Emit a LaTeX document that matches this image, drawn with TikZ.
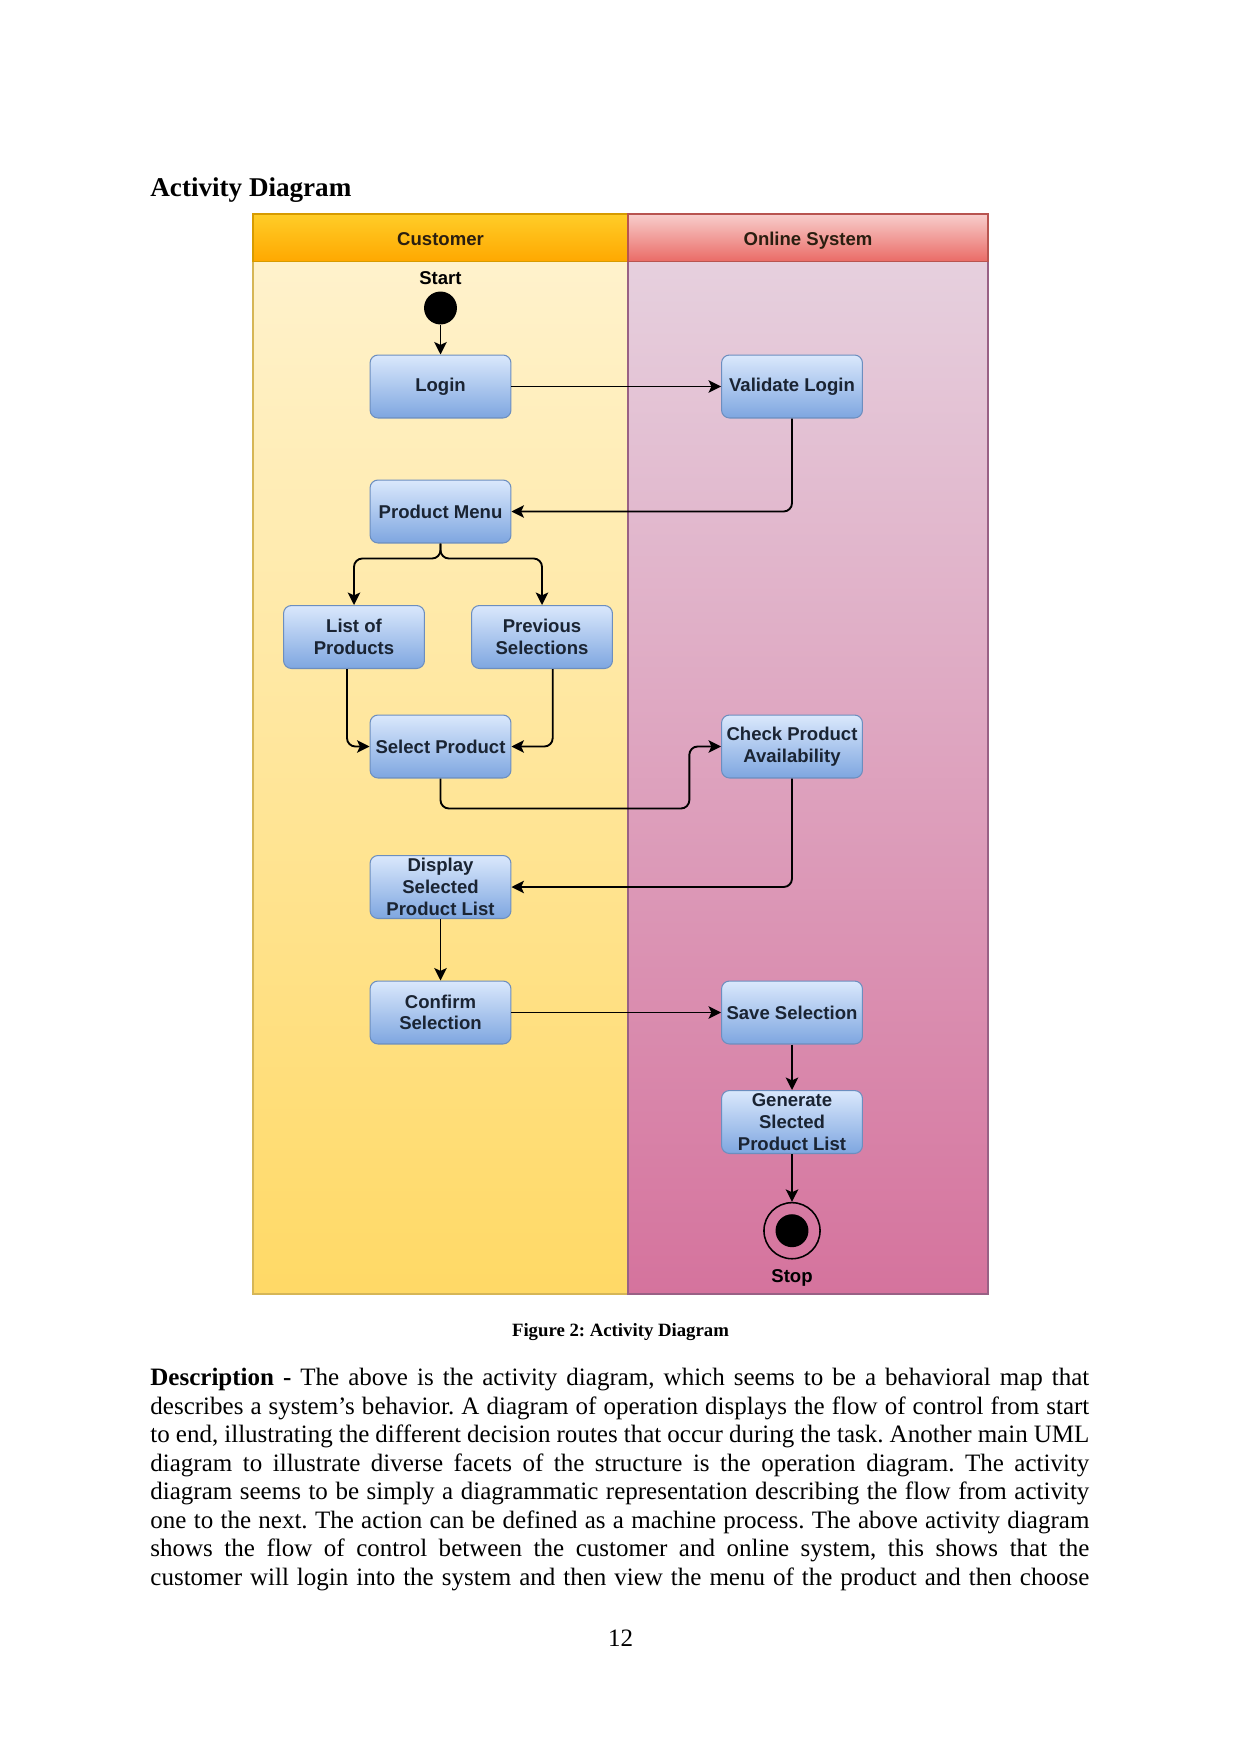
\documentclass[tikz,border=0pt]{standalone}
\usepackage{fontspec}
\setmainfont{Liberation Serif}
\newfontfamily\boxfont{Liberation Sans}
\usetikzlibrary{arrows.meta,calc}
\frenchspacing
\definecolor{hdrOtop}{HTML}{FFCD28}
\definecolor{hdrObot}{HTML}{FFA800}
\definecolor{hdrOline}{HTML}{D79B00}
\definecolor{laneYtop}{HTML}{FFF2CC}
\definecolor{laneYbot}{HTML}{FFD966}
\definecolor{laneYline}{HTML}{D6B656}
\definecolor{hdrRtop}{HTML}{F8CECC}
\definecolor{hdrRbot}{HTML}{EA6B66}
\definecolor{hdrRline}{HTML}{B85450}
\definecolor{lanePtop}{HTML}{E6D0DE}
\definecolor{lanePbot}{HTML}{D5739D}
\definecolor{lanePline}{HTML}{996185}
\definecolor{boxtop}{HTML}{DAE8FC}
\definecolor{boxbot}{HTML}{7EA6E0}
\definecolor{boxline}{HTML}{6C8EBF}
\definecolor{boxtext}{HTML}{1A2433}
\definecolor{hdrtext}{HTML}{2A1E10}
\begin{document}
\begin{tikzpicture}[x=0.4797pt,y=-0.4797pt,
  actbox/.style={rectangle, rounded corners=3.8pt, draw=boxline, line width=0.5pt,
    top color=boxtop, bottom color=boxbot, minimum width=67.6pt, minimum height=30.2pt,
    inner sep=0pt, align=center, text=boxtext,
    font=\boxfont\bfseries\fontsize{8.9}{10.4}\selectfont},
  lanelabel/.style={text=hdrtext, text height=6.6pt, text depth=1.9pt,
    font=\boxfont\bfseries\fontsize{8.9}{10.4}\selectfont},
  flowline/.style={draw=black, line width=0.9pt, rounded corners=4pt,
    -{Stealth[length=6pt,width=6pt,inset=1.4pt]}},
  bodyline/.style={anchor=base west, inner sep=0pt, font=\fontsize{12}{13.66}\selectfont}]
\useasboundingbox (0,0) rectangle (1241,1754);
\fill[white] (0,0) rectangle (1241,1754);

% heading
\node[anchor=base west, inner sep=0pt, font=\bfseries\fontsize{13}{15}\selectfont] (heading) at (150,196.7) {Activity Diagram};

% swimlanes
\shade[top color=laneYtop, bottom color=laneYbot] (253,261.5) rectangle (628,1294);
\shade[top color=lanePtop, bottom color=lanePbot] (628,261.5) rectangle (988,1294);
\shade[top color=hdrOtop, bottom color=hdrObot] (253,214) rectangle (628,261.5);
\shade[top color=hdrRtop, bottom color=hdrRbot] (628,214) rectangle (988,261.5);
\draw[laneYline, line width=0.5pt] (253,261.5) rectangle (628,1294);
\draw[lanePline, line width=0.5pt] (628,261.5) rectangle (988,1294);
\draw[hdrOline, line width=0.5pt] (253,214) rectangle (628,261.5);
\draw[hdrRline, line width=0.5pt] (628,214) rectangle (988,261.5);
\node[lanelabel] (customer) at (440.5,240.5) {Customer};
\node[lanelabel] (online) at (808,240.5) {Online System};

% start
\node[lanelabel, text=black] (startlabel) at (440.5,279.5) {Start};
\node[circle, fill=black, minimum size=15.8pt, inner sep=0pt] (start) at (440.5,308) {};

% activities
\node[actbox] (login) at (440.5,386.5) {Login};
\node[actbox] (validate) at (792,386.5) {Validate Login};
\node[actbox] (pmenu) at (440.5,511.5) {Product Menu};
\node[actbox] (list) at (354,637) {List of\\Products};
\node[actbox] (prev) at (542,637) {Previous\\Selections};
\node[actbox] (select) at (440.5,746.5) {Select Product};
\node[actbox] (check) at (792,746.5) {Check Product\\Availability};
\node[actbox] (display) at (440.5,887) {Display\\Selected\\Product List};
\node[actbox] (confirm) at (440.5,1012.5) {Confirm\\Selection};
\node[actbox] (save) at (792,1012.5) {Save Selection};
\node[actbox] (generate) at (792,1122) {Generate\\Slected\\Product List};

% stop
\node[circle, draw=black, line width=0.75pt, minimum size=26.9pt, inner sep=0pt] (stop) at (792,1230.7) {};
\node[circle, fill=black, minimum size=15.8pt, inner sep=0pt] (stopdot) at (stop.center) {};
\node[lanelabel, text=black] (stoplabel) at (792,1277.5) {Stop};

% connectors
\draw[flowline] (start) -- (login);
\draw[flowline] (login) -- (validate);
\draw[flowline] (validate.south) |- (pmenu.east);
\draw[flowline] (pmenu.south) -- ++(0,15) -| (list.north);
\draw[flowline] (pmenu.south) -- ++(0,15) -| (prev.north);
\draw[flowline] ($(list.south)+(-7,0)$) |- (select.west);
\draw[flowline] ($(prev.south)+(10.7,0)$) |- (select.east);
\draw[flowline] (select.south) -- ++(0,30) -| ($(check.west)+(-31.7,0)$) -- (check.west);
\draw[flowline] (check.south) |- (display.east);
\draw[flowline] (display) -- (confirm);
\draw[flowline] (confirm) -- (save);
\draw[flowline] (save) -- (generate);
\draw[flowline] (generate) -- (stop);

% caption
\node[anchor=base, inner sep=0pt, font=\bfseries\fontsize{9}{11}\selectfont] (caption) at (620.5,1336) {Figure 2: Activity Diagram};

% body text
\node[bodyline] (l1) at (150,1385.7) {\makebox[450.4pt][s]{\textbf{Description -} The above is the activity diagram, which seems to be a behavioral map that}};
\node[bodyline] (l2) at (150,1414.2) {\makebox[450.4pt][s]{describes a system’s behavior. A diagram of operation displays the flow of control from start}};
\node[bodyline] (l3) at (150,1442.7) {\makebox[450.4pt][s]{to end, illustrating the different decision routes that occur during the task. Another main UML}};
\node[bodyline] (l4) at (150,1471.1) {\makebox[450.4pt][s]{diagram to illustrate diverse facets of the structure is the operation diagram. The activity}};
\node[bodyline] (l5) at (150,1499.6) {\makebox[450.4pt][s]{diagram seems to be simply a diagrammatic representation describing the flow from activity}};
\node[bodyline] (l6) at (150,1528.1) {\makebox[450.4pt][s]{one to the next. The action can be defined as a machine process. The above activity diagram}};
\node[bodyline] (l7) at (150,1556.6) {\makebox[450.4pt][s]{shows the flow of control between the customer and online system, this shows that the}};
\node[bodyline] (l8) at (150,1585) {\makebox[450.4pt][s]{customer will login into the system and then view the menu of the product and then choose}};

% page number
\node[anchor=base, inner sep=0pt, font=\fontsize{12}{14}\selectfont] (pagenum) at (620.5,1646) {12};
\end{tikzpicture}
\end{document}
